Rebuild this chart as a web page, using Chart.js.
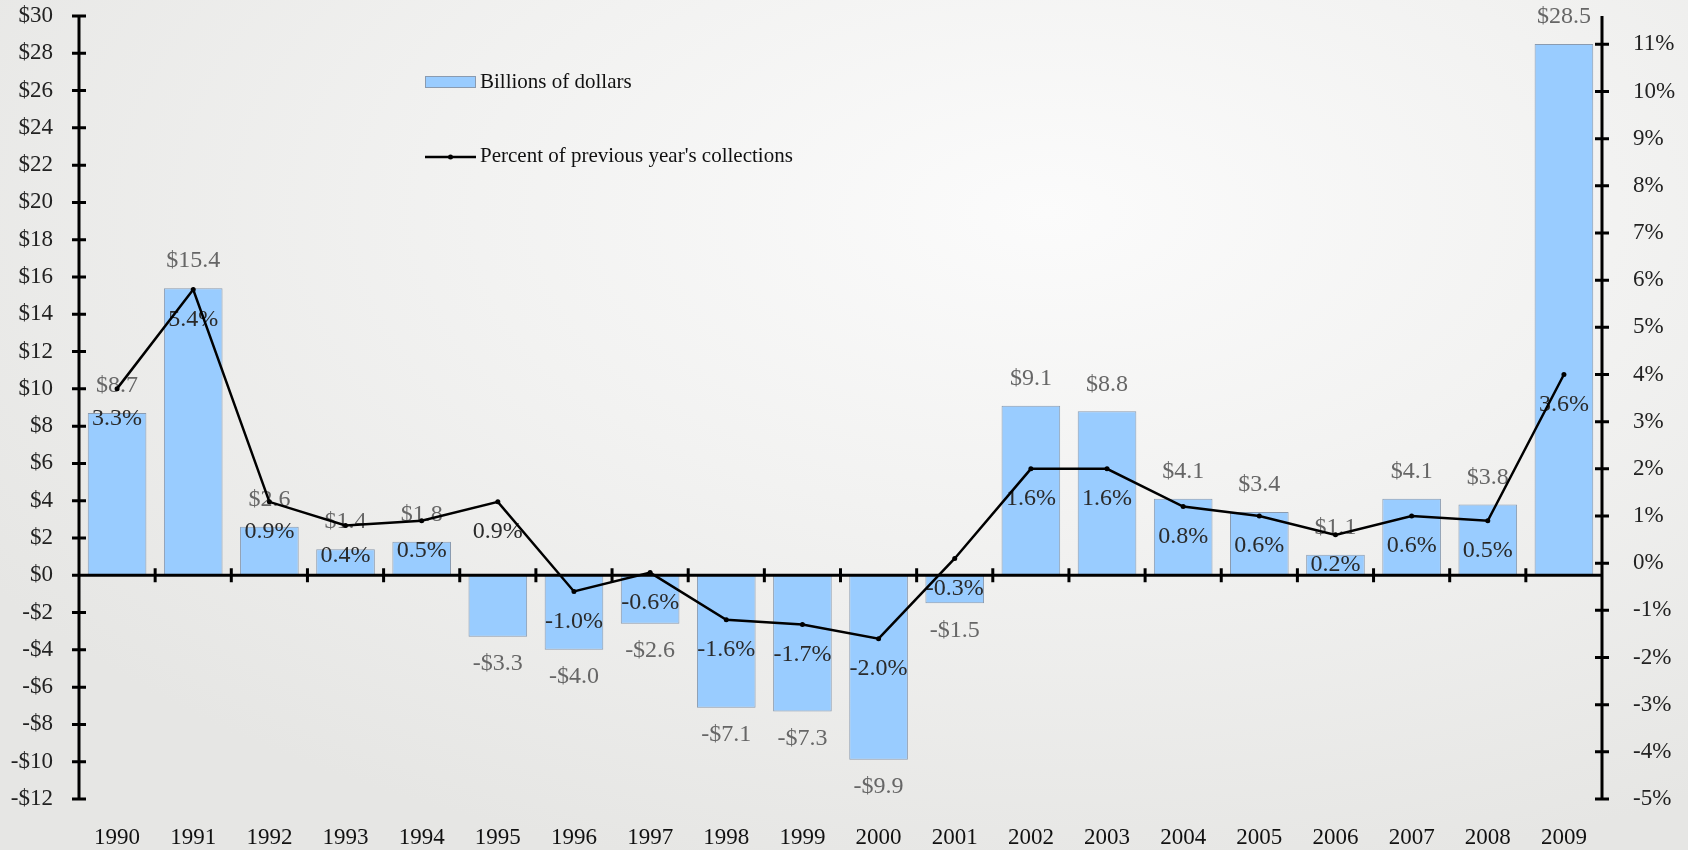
<!DOCTYPE html>
<html>
<head>
<meta charset="utf-8">
<script src="https://cdn.jsdelivr.net/npm/chart.js@4/dist/chart.umd.min.js"></script>
<style>
  html, body { margin: 0; padding: 0; }
  body {
    width: 1688px; height: 850px; overflow: hidden;
    background: radial-gradient(ellipse 75% 80% at 62% 25%, #fbfbfb 0%, #f2f2f1 45%, #e6e6e4 100%);
  }
  canvas { display: block; }
</style>
</head>
<body>
<canvas id="c" width="1688" height="850"></canvas>
<script>
// ---- Data ----
const years = ['1990','1991','1992','1993','1994','1995','1996','1997','1998','1999',
               '2000','2001','2002','2003','2004','2005','2006','2007','2008','2009'];
const billions = [8.7, 15.4, 2.6, 1.4, 1.8, -3.3, -4.0, -2.6, -7.1, -7.3,
                  -9.9, -1.5, 9.1, 8.8, 4.1, 3.4, 1.1, 4.1, 3.8, 28.5];
// percent line as plotted in the picture (against right axis)
const percentPlotted = [3.7, 5.8, 1.3, 0.8, 0.9, 1.3, -0.6, -0.2, -1.2, -1.3,
                        -1.6, 0.1, 2.0, 2.0, 1.2, 1.0, 0.6, 1.0, 0.9, 4.0];
// percent labels as printed in the picture
const percentLabels = ['3.3%','5.4%','0.9%','0.4%','0.5%','0.9%','-1.0%','-0.6%','-1.6%','-1.7%',
                       '-2.0%','-0.3%','1.6%','1.6%','0.8%','0.6%','0.2%','0.6%','0.5%','3.6%'];
const legendBar = 'Billions of dollars';
const legendLine = "Percent of previous year's collections";

const FONT = '"Liberation Serif", "DejaVu Serif", serif';

function dollar(v) {
  return (v < 0 ? '-$' : '$') + Math.abs(v);
}
function dollar1(v) {
  return (v < 0 ? '-$' : '$') + Math.abs(v).toFixed(1);
}

const decor = {
  id: 'decor',
  afterDatasetDraw(chart, args) {
    if (args.index !== 0) return;
    const ctx = chart.ctx;
    const ca = chart.chartArea;
    const x = chart.scales.x, y = chart.scales.y, y2 = chart.scales.y2;
    const zeroY = y.getPixelForValue(0);
    const T = 7;
    ctx.save();
    ctx.strokeStyle = '#000';
    ctx.lineWidth = 3;
    ctx.lineCap = 'butt';
    ctx.beginPath();
    ctx.moveTo(ca.left, ca.top); ctx.lineTo(ca.left, ca.bottom);
    y.ticks.forEach((t, i) => {
      const py = y.getPixelForTick(i);
      ctx.moveTo(ca.left - T, py); ctx.lineTo(ca.left + T, py);
    });
    ctx.moveTo(ca.right, ca.top); ctx.lineTo(ca.right, ca.bottom);
    y2.ticks.forEach((t, i) => {
      const py = y2.getPixelForTick(i);
      ctx.moveTo(ca.right - T, py); ctx.lineTo(ca.right + T, py);
    });
    ctx.moveTo(ca.left, zeroY); ctx.lineTo(ca.right, zeroY);
    for (let i = 0; i < years.length - 1; i++) {
      const px = (x.getPixelForValue(i) + x.getPixelForValue(i + 1)) / 2;
      ctx.moveTo(px, zeroY - T); ctx.lineTo(px, zeroY + T);
    }
    ctx.stroke();

    ctx.font = '24px ' + FONT;
    ctx.textAlign = 'center';
    ctx.textBaseline = 'middle';
    const barMeta = chart.getDatasetMeta(0);
    barMeta.data.forEach((el, i) => {
      const v = billions[i];
      ctx.fillStyle = '#666';
      const ty = v >= 0 ? el.y - 27 : el.y + 27;
      ctx.fillText(dollar1(v), el.x, ty);
    });
    const lineMeta = chart.getDatasetMeta(1);
    lineMeta.data.forEach((el, i) => {
      ctx.fillStyle = '#2a2a2a';
      ctx.fillText(percentLabels[i], el.x, el.y + 30);
    });

    const lx = ca.left + 346;
    ctx.fillStyle = '#99CCFF';
    ctx.fillRect(lx, 76, 51, 12);
    ctx.strokeStyle = '#8a9bb0';
    ctx.lineWidth = 1;
    ctx.strokeRect(lx + 0.5, 76.5, 50, 11);
    ctx.strokeStyle = '#000';
    ctx.lineWidth = 2.5;
    ctx.beginPath();
    ctx.moveTo(lx, 157); ctx.lineTo(lx + 51, 157);
    ctx.stroke();
    ctx.fillStyle = '#000';
    ctx.beginPath(); ctx.arc(lx + 25.5, 157, 2.5, 0, Math.PI * 2); ctx.fill();
    ctx.font = '21px ' + FONT;
    ctx.textAlign = 'left';
    ctx.fillStyle = '#111';
    ctx.fillText(legendBar, lx + 55, 82);
    ctx.fillText(legendLine, lx + 55, 156);
    ctx.restore();
  }
};

function noPad(s) { s.paddingTop = 0; s.paddingBottom = 0; }

new Chart(document.getElementById('c'), {
  type: 'bar',
  data: {
    labels: years,
    datasets: [
      {
        type: 'bar',
        label: legendBar,
        data: billions,
        yAxisID: 'y',
        backgroundColor: '#99CCFF',
        borderColor: '#8a9bb0',
        borderWidth: 1,
        barPercentage: 0.77,
        categoryPercentage: 1.0,
        order: 1
      },
      {
        type: 'line',
        label: legendLine,
        data: percentPlotted,
        yAxisID: 'y2',
        borderColor: '#000',
        borderWidth: 2.5,
        pointRadius: 2.5,
        pointBackgroundColor: '#000',
        pointBorderWidth: 0,
        tension: 0,
        order: 0
      }
    ]
  },
  options: {
    responsive: false,
    animation: false,
    layout: { padding: { top: 16, left: 0, right: 0, bottom: 0 } },
    plugins: { legend: { display: false }, tooltip: { enabled: false } },
    scales: {
      x: {
        position: 'bottom',
        offset: true,
        grid: { display: false },
        border: { display: false },
        ticks: { font: { family: FONT, size: 23 }, color: '#111', padding: 17, maxRotation: 0 },
        afterFit(s) { s.height = 51; s.paddingLeft = 0; s.paddingRight = 0; }
      },
      y: {
        position: 'left',
        min: -12, max: 30,
        grid: { display: false },
        border: { display: false },
        ticks: { stepSize: 2, font: { family: FONT, size: 23 }, color: '#222', padding: 18,
                 callback: v => dollar(v) },
        afterFit(s) { s.width = 79; noPad(s); }
      },
      y2: {
        position: 'right',
        min: -5, max: 11.6,
        grid: { display: false },
        border: { display: false },
        ticks: { stepSize: 1, includeBounds: false, font: { family: FONT, size: 23 }, color: '#222', padding: 23,
                 callback: v => v + '%' },
        afterFit(s) { s.width = 86; noPad(s); }
      }
    }
  },
  plugins: [decor]
});
</script>
</body>
</html>
